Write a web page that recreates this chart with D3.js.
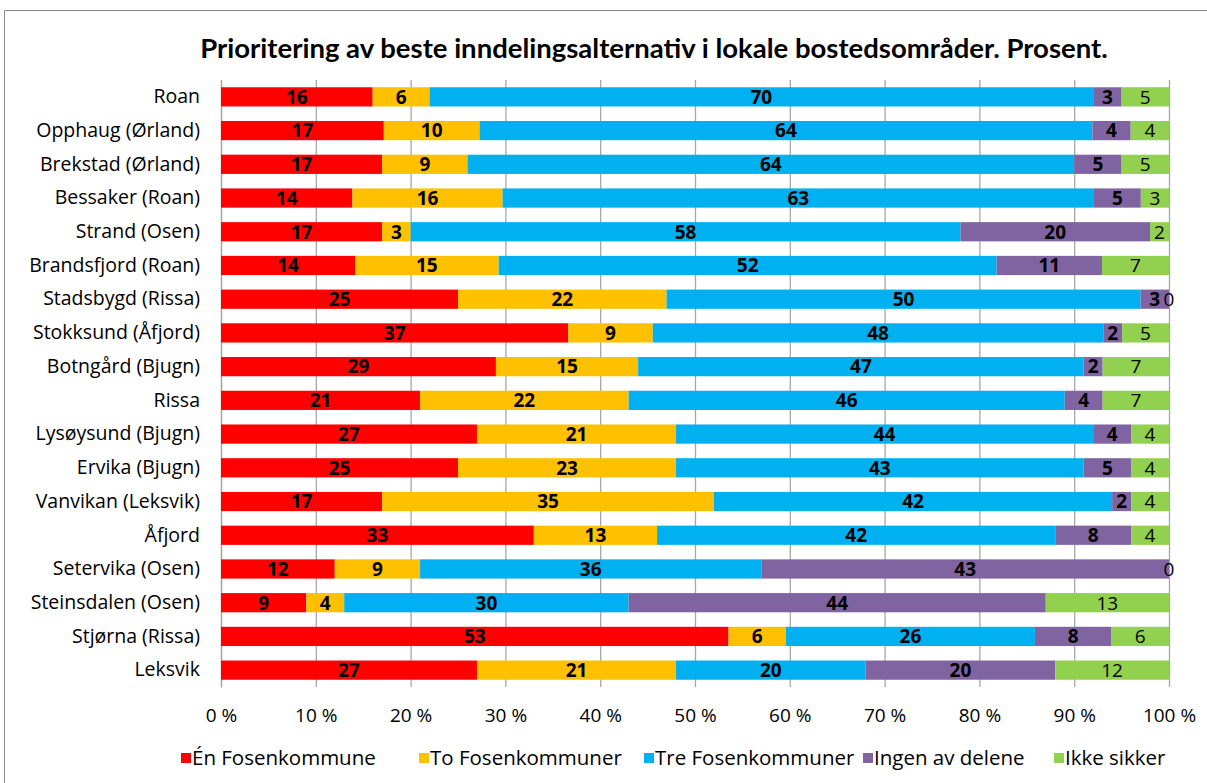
<!DOCTYPE html>
<html>
<head>
<meta charset="utf-8">
<script src="https://cdn.jsdelivr.net/npm/d3@7"></script>
<style>
  html, body { margin: 0; padding: 0; background: #fff; }
  svg { display: block; font-family: "Open Sans", sans-serif; }
</style>
</head>
<body>
<svg id="chart" width="1207" height="783"></svg>
<script>
const title = "Prioritering av beste inndelingsalternativ i lokale bostedsområder. Prosent.";
const categories = ["Roan", "Opphaug (Ørland)", "Brekstad (Ørland)", "Bessaker (Roan)", "Strand (Osen)",
  "Brandsfjord (Roan)", "Stadsbygd (Rissa)", "Stokksund (Åfjord)", "Botngård (Bjugn)", "Rissa",
  "Lysøysund (Bjugn)", "Ervika (Bjugn)", "Vanvikan (Leksvik)", "Åfjord", "Setervika (Osen)",
  "Steinsdalen (Osen)", "Stjørna (Rissa)", "Leksvik"];
const seriesNames = ["Én Fosenkommune", "To Fosenkommuner", "Tre Fosenkommuner", "Ingen av delene", "Ikke sikker"];
const seriesColors = ["#FF0000", "#FFC000", "#00B0F0", "#8064A2", "#92D050"];
const enFosen   = [16, 17, 17, 14, 17, 14, 25, 37, 29, 21, 27, 25, 17, 33, 12,  9, 53, 27];
const toFosen   = [ 6, 10,  9, 16,  3, 15, 22,  9, 15, 22, 21, 23, 35, 13,  9,  4,  6, 21];
const treFosen  = [70, 64, 64, 63, 58, 52, 50, 48, 47, 46, 44, 43, 42, 42, 36, 30, 26, 20];
const ingen     = [ 3,  4,  5,  5, 20, 11,  3,  2,  2,  4,  4,  5,  2,  8, 43, 44,  8, 20];
const ikkeSikker= [ 5,  4,  5,  3,  2,  7,  0,  5,  7,  7,  4,  4,  4,  4,  0, 13,  6, 12];
const tickValues = [0, 0.1, 0.2, 0.3, 0.4, 0.5, 0.6, 0.7, 0.8, 0.9, 1.0];
const tickLabels = ["0 %", "10 %", "20 %", "30 %", "40 %", "50 %", "60 %", "70 %", "80 %", "90 %", "100 %"];

const seriesValues = [enFosen, toFosen, treFosen, ingen, ikkeSikker];
const keys = seriesNames;
const table = categories.map((c, i) => {
  const row = { cat: c };
  keys.forEach((k, j) => row[k] = seriesValues[j][i]);
  return row;
});
const stacked = d3.stack().keys(keys).offset(d3.stackOffsetExpand)(table);

const svg = d3.select("#chart");
const W = 1207, H = 783;
const plot = { left: 221, right: 1169, top: 80, bottom: 687 };

// outer frame
svg.append("path")
  .attr("d", `M4.5,${H} V10.5 H${W}`)
  .attr("fill", "none").attr("stroke", "#898989").attr("stroke-width", 1);

// title
svg.append("text")
  .attr("x", 654).attr("y", 58)
  .attr("text-anchor", "middle")
  .attr("font-family", "Lato, sans-serif")
  .attr("font-size", 27.5).attr("font-weight", "bold")
  .attr("fill", "#000")
  .text(title);

const x = d3.scaleLinear().domain([0, 1]).range([plot.left, plot.right]);
const y = d3.scaleBand().domain(categories).range([plot.top, plot.bottom])
  .paddingInner(0.43).paddingOuter(0.215);

// grid
const xAxis = d3.axisBottom(x).tickValues(tickValues)
  .tickFormat((d, i) => tickLabels[i])
  .tickSize(-(plot.bottom - plot.top)).tickSizeOuter(0).tickPadding(22);
const gx = svg.append("g").attr("transform", `translate(0,${plot.bottom})`).call(xAxis);
gx.select(".domain").remove();
gx.selectAll(".tick line").attr("stroke", "#A6A6A6").attr("stroke-width", 1.3);
gx.selectAll(".tick text").attr("font-size", 19).attr("fill", "#000")
  .attr("font-family", "'Open Sans', sans-serif");

// category axis
const yAxis = d3.axisLeft(y).tickSize(0).tickPadding(21);
const gy = svg.append("g").attr("transform", `translate(${plot.left},0)`).call(yAxis);
gy.select(".domain").attr("stroke", "#A6A6A6").attr("stroke-width", 1.3);
gy.selectAll(".tick text").attr("font-size", 19.5).attr("fill", "#000")
  .attr("font-family", "'Open Sans', sans-serif");

// bars
const layers = svg.append("g").selectAll("g").data(stacked).join("g")
  .attr("fill", (d, i) => seriesColors[i]);
layers.selectAll("rect").data(d => d).join("rect")
  .attr("x", d => x(d[0]))
  .attr("y", d => y(d.data.cat))
  .attr("width", d => x(d[1]) - x(d[0]))
  .attr("height", y.bandwidth());

// labels
const lab = svg.append("g");
stacked.forEach((layer, si) => {
  lab.selectAll(null).data(layer).join("text")
    .attr("x", d => (x(d[0]) + x(d[1])) / 2)
    .attr("y", d => y(d.data.cat) + y.bandwidth() / 2)
    .attr("dy", "0.36em")
    .attr("text-anchor", "middle")
    .attr("font-size", 19)
    .attr("font-weight", si === 4 ? "normal" : "bold")
    .attr("fill", "#000")
    .text(d => d.data[layer.key]);
});

// legend
const legendX = [181, 419, 644, 863, 1054];
const lg = svg.append("g");
seriesNames.forEach((n, i) => {
  lg.append("rect").attr("x", legendX[i]).attr("y", 753).attr("width", 10).attr("height", 10)
    .attr("fill", seriesColors[i]);
  lg.append("text").attr("x", legendX[i] + 11).attr("y", 765)
    .attr("font-size", 20.5).attr("fill", "#000").text(n);
});
</script>
</body>
</html>
